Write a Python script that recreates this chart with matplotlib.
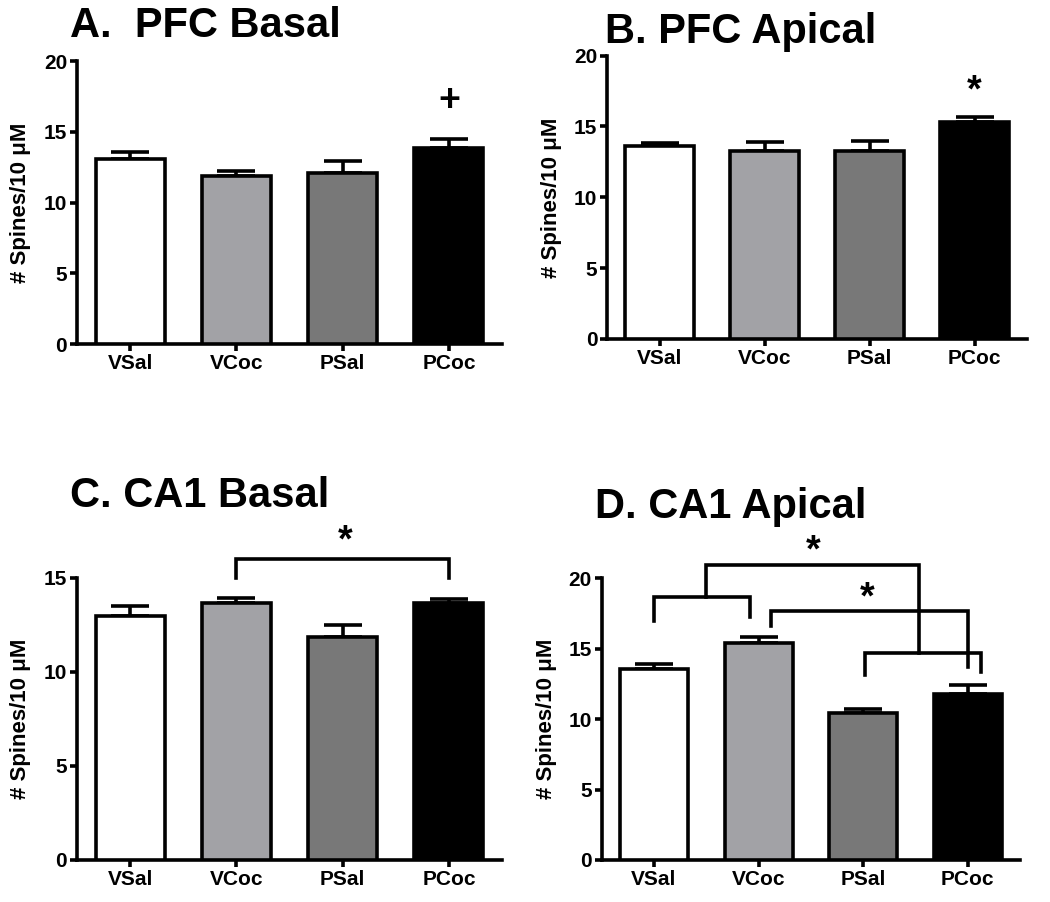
import matplotlib
matplotlib.use("Agg")
import matplotlib.pyplot as plt
import numpy as np

plt.rcParams['font.family'] = ['Liberation Sans', 'DejaVu Sans']
plt.rcParams['font.weight'] = 'bold'

groups = ['VSal', 'VCoc', 'PSal', 'PCoc']
colors = ['white', '#a2a2a6', '#787878', 'black']

# mean and SEM per panel
pfc_basal = [13.07, 11.90, 12.06, 13.87]
pfc_basal_err = [0.50, 0.33, 0.85, 0.60]
pfc_apical = [13.62, 13.30, 13.30, 15.30]
pfc_apical_err = [0.24, 0.60, 0.70, 0.40]
ca1_basal = [12.98, 13.64, 11.83, 13.64]
ca1_basal_err = [0.52, 0.28, 0.64, 0.21]
ca1_apical = [13.54, 15.43, 10.46, 11.79]
ca1_apical_err = [0.36, 0.43, 0.26, 0.64]

# significance brackets (x in group index, y in data units)
c_brackets = [[(1, 15.0), (1, 16.0), (3, 16.0), (3, 15.0)]]
c_stars = [(2.02, 16.9, '*')]
d_brackets = [
    [(0, 17.0), (0, 18.7), (0.92, 18.7), (0.92, 17.24)],
    [(0.5, 18.7), (0.5, 20.95), (2.53, 20.95), (2.53, 14.7)],
    [(2.02, 13.1), (2.02, 14.7), (3.13, 14.7), (3.13, 13.35)],
    [(1.12, 16.64), (1.12, 17.7), (3.0, 17.7), (3.0, 13.7)],
]
d_stars = [(1.52, 21.9, '*'), (2.04, 18.6, '*')]

LW = 2.6


def draw_panel(ax, vals, errs, ymax, title, tpos, fig):
    x = np.arange(len(groups))
    ax.bar(x, vals, 0.65, color=colors, edgecolor='black', linewidth=LW, zorder=3)
    ax.errorbar(x, vals, yerr=[np.zeros(len(errs)), errs], fmt='none',
                ecolor='black', elinewidth=LW, capsize=13.5, capthick=LW, zorder=2)
    ax.set_xlim(-0.5, 3.5)
    ax.set_ylim(0, ymax)
    ax.set_yticks(np.arange(0, ymax + 1, 5))
    ax.set_xticks(x)
    ax.set_xticklabels(groups, fontsize=15, fontweight='bold')
    for lab in ax.get_yticklabels():
        lab.set_fontsize(15)
        lab.set_fontweight('bold')
    ax.spines['top'].set_visible(False)
    ax.spines['right'].set_visible(False)
    ax.spines['left'].set_linewidth(LW)
    ax.spines['bottom'].set_linewidth(LW)
    ax.tick_params(width=LW, length=5, pad=2)
    ax.set_ylabel('# Spines/10 \u03bcM', fontsize=16, fontweight='bold')
    ax.yaxis.set_label_coords(-0.107, 0.5)
    fig.text(tpos[0], tpos[1], title, fontsize=30, fontweight='bold', va='baseline')


fig = plt.figure(figsize=(10.5, 9.02), dpi=100)
axA = fig.add_axes([0.0733, 0.6186, 0.4048, 0.3137])
axB = fig.add_axes([0.5781, 0.6242, 0.4000, 0.3141])
axC = fig.add_axes([0.0733, 0.0466, 0.4048, 0.3130])
axD = fig.add_axes([0.5730, 0.0466, 0.3984, 0.3123])

draw_panel(axA, pfc_basal, pfc_basal_err, 20, 'A.  PFC Basal', (0.0667, 0.959), fig)
draw_panel(axB, pfc_apical, pfc_apical_err, 20, 'B. PFC Apical', (0.576, 0.9523), fig)
draw_panel(axC, ca1_basal, ca1_basal_err, 15, 'C. CA1 Basal', (0.0667, 0.4379), fig)
draw_panel(axD, ca1_apical, ca1_apical_err, 20, 'D. CA1 Apical', (0.5667, 0.4257), fig)

axA.text(3, 17.2, '+', fontsize=27, fontweight='bold', ha='center', va='center')
axB.text(3, 17.5, '*', fontsize=27, fontweight='bold', ha='center', va='center')

for ax, brs, stars in [(axC, c_brackets, c_stars), (axD, d_brackets, d_stars)]:
    for br in brs:
        bx, by = zip(*br)
        ax.plot(bx, by, color='black', lw=LW, clip_on=False, zorder=4,
                solid_joinstyle='miter')
    for sx, sy, s in stars:
        ax.text(sx, sy, s, fontsize=27, fontweight='bold', ha='center',
                va='center', clip_on=False)

fig.savefig('out.png', dpi=100)
